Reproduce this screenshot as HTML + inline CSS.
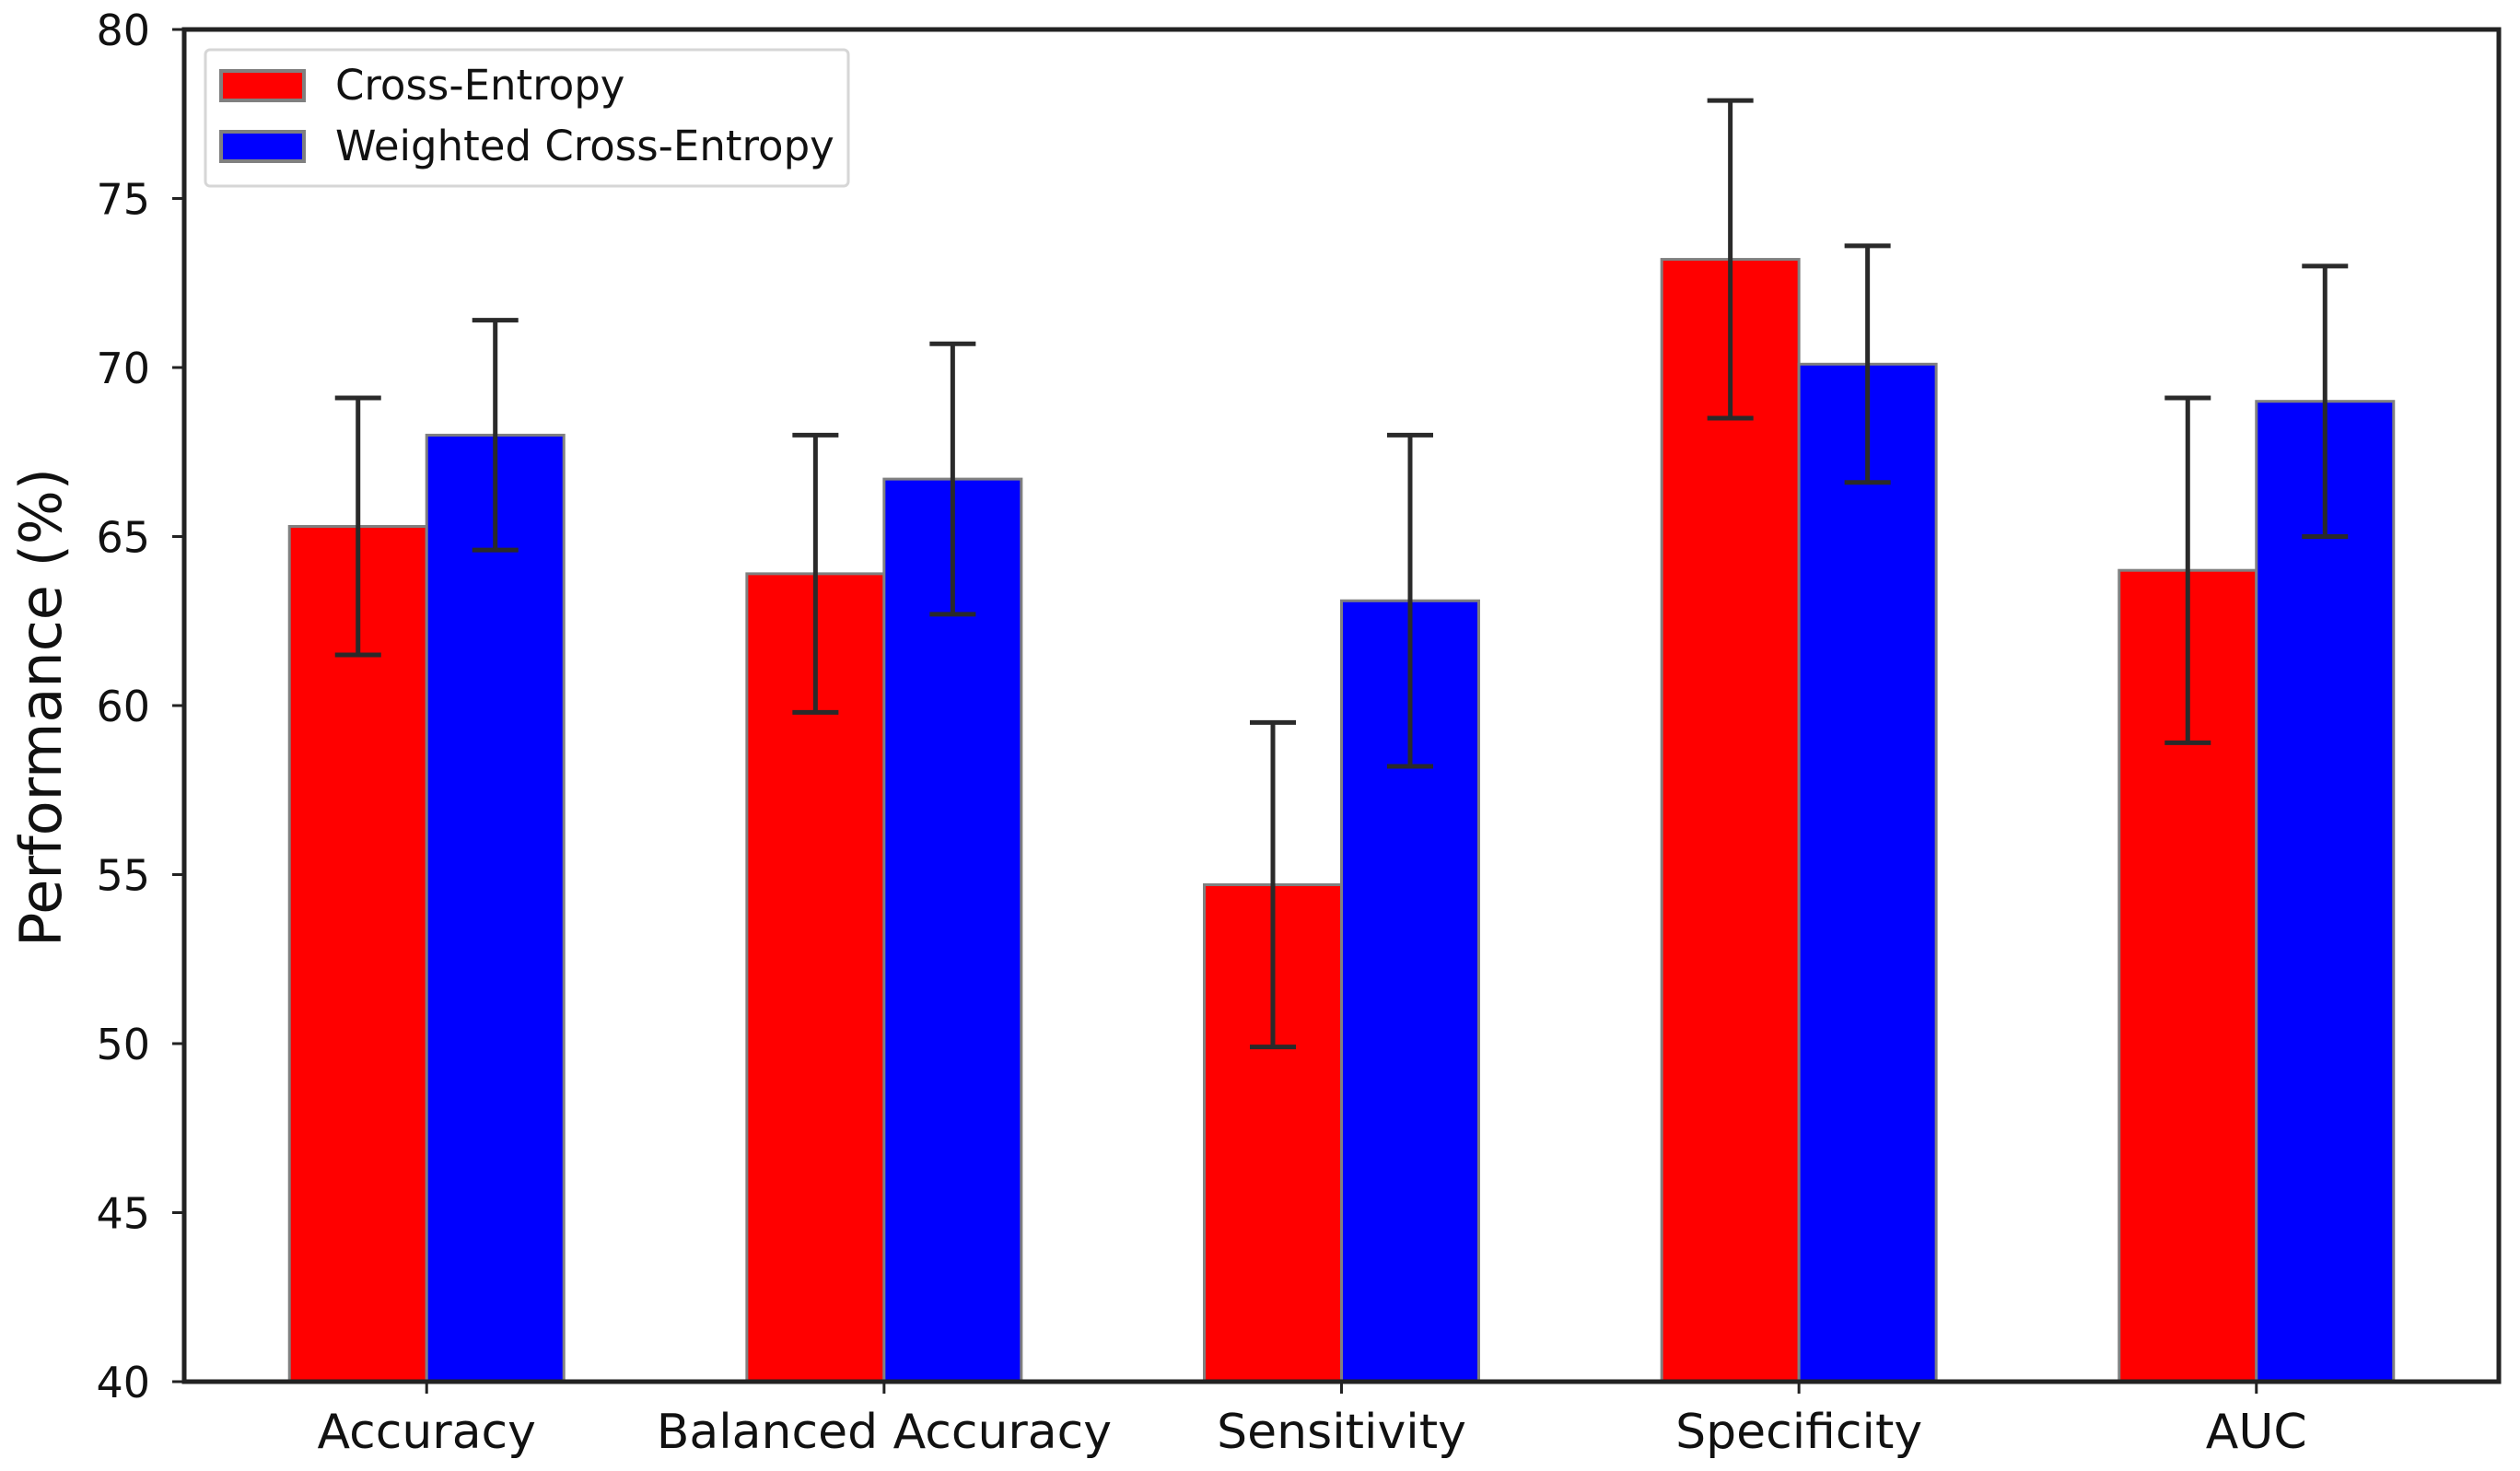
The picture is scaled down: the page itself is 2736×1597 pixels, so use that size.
<!DOCTYPE html>
<html><head><meta charset="utf-8"><style>
html,body{margin:0;padding:0;background:#fff;}
svg{display:block;font-family:"DejaVu Sans","Liberation Sans",sans-serif;}
</style></head><body>
<svg id="chart" width="2736" height="1597" viewBox="0 0 2736 1597" xmlns="http://www.w3.org/2000/svg"></svg>
<script>
const categories = ["Accuracy","Balanced Accuracy","Sensitivity","Specificity","AUC"];
const ceValues = [65.3, 63.9, 54.7, 73.2, 64.0];
const ceErrors = [3.8, 4.1, 4.8, 4.7, 5.1];
const wceValues = [68.0, 66.7, 63.1, 70.1, 69.0];
const wceErrors = [3.4, 4.0, 4.9, 3.5, 4.0];
const yTicks = [40,45,50,55,60,65,70,75,80];
const seriesNames = ["Cross-Entropy","Weighted Cross-Entropy"];

const NS="http://www.w3.org/2000/svg";
const svg=document.getElementById('chart');
const L=200,R=2713,T=32,B=1500,yMin=40,yMax=80;
const n=categories.length, barW=0.3;
const dataMin=-barW, dataMax=(n-1)+barW;
const pad=0.05*(dataMax-dataMin);
const x0=dataMin-pad, x1=dataMax+pad;
function xs(v){return L+(v-x0)/(x1-x0)*(R-L);}
function ys(v){return B-(v-yMin)/(yMax-yMin)*(B-T);}
function el(tag,attrs,parent){const e=document.createElementNS(NS,tag);for(const k in attrs)e.setAttribute(k,attrs[k]);(parent||svg).appendChild(e);return e;}

const bars=el('g',{});


const series=[{v:ceValues,e:ceErrors,c:'#ff0000',off:-barW/2,key:'ce'},{v:wceValues,e:wceErrors,c:'#0000ff',off:barW/2,key:'wce'}];
series.forEach(s=>{
  categories.forEach((cat,i)=>{
    const cx=xs(i+s.off), w=xs(barW)-xs(0);
    const r=el('rect',{x:cx-w/2,y:ys(s.v[i]),width:w,height:ys(yMin)-ys(s.v[i]),fill:s.c,stroke:'#808080','stroke-width':3},bars);
    
    
  });
});
series.forEach(s=>{
  categories.forEach((cat,i)=>{
    const cx=xs(i+s.off);
    const g=el('g',{stroke:'#2a2a2a','stroke-width':5},bars);
    
    
    const hi=ys(s.v[i]+s.e[i]), lo=ys(s.v[i]-s.e[i]);
    el('line',{x1:cx,x2:cx,y1:hi,y2:lo},g);
    el('line',{x1:cx-25,x2:cx+25,y1:hi,y2:hi},g);
    el('line',{x1:cx-25,x2:cx+25,y1:lo,y2:lo},g);
  });
});

const frame=el('rect',{x:L,y:T,width:R-L,height:B-T,fill:'none',stroke:'#222','stroke-width':5});



yTicks.forEach(t=>{
  const y=ys(t);
  const tk=el('line',{x1:L-13,x2:L,y1:y,y2:y,stroke:'#222','stroke-width':3});
  
  
  const tx=el('text',{x:163,y:y+17,'text-anchor':'end','font-size':46,fill:'#111'});
  tx.textContent=t;
  
  
});
categories.forEach((c,i)=>{
  const x=xs(i);
  const tk=el('line',{x1:x,x2:x,y1:B,y2:B+13,stroke:'#222','stroke-width':3});
  
  
  const tx=el('text',{x:x,y:1572,'text-anchor':'middle','font-size':52,fill:'#111'});
  tx.textContent=c;
  
  
});
const yt=el('text',{x:0,y:0,transform:'translate(66,768) rotate(-90)','text-anchor':'middle','font-size':62,fill:'#111'});
yt.textContent='Performance (%)';



const lg=el('g',{});


el('rect',{x:223,y:54,width:698,height:148,rx:5,fill:'#fff',stroke:'#d6d6d6','stroke-width':3},lg);
[['#ff0000',77,seriesNames[0]],['#0000ff',143,seriesNames[1]]].forEach((d,i)=>{
  const p=el('rect',{x:240,y:d[1],width:90,height:32,fill:d[0],stroke:'#808080','stroke-width':4},lg);
  
  
  const t=el('text',{x:364,y:d[1]+31,'font-size':45,fill:'#111'},lg);
  t.textContent=d[2];
  
  
});
</script>
</body></html>
